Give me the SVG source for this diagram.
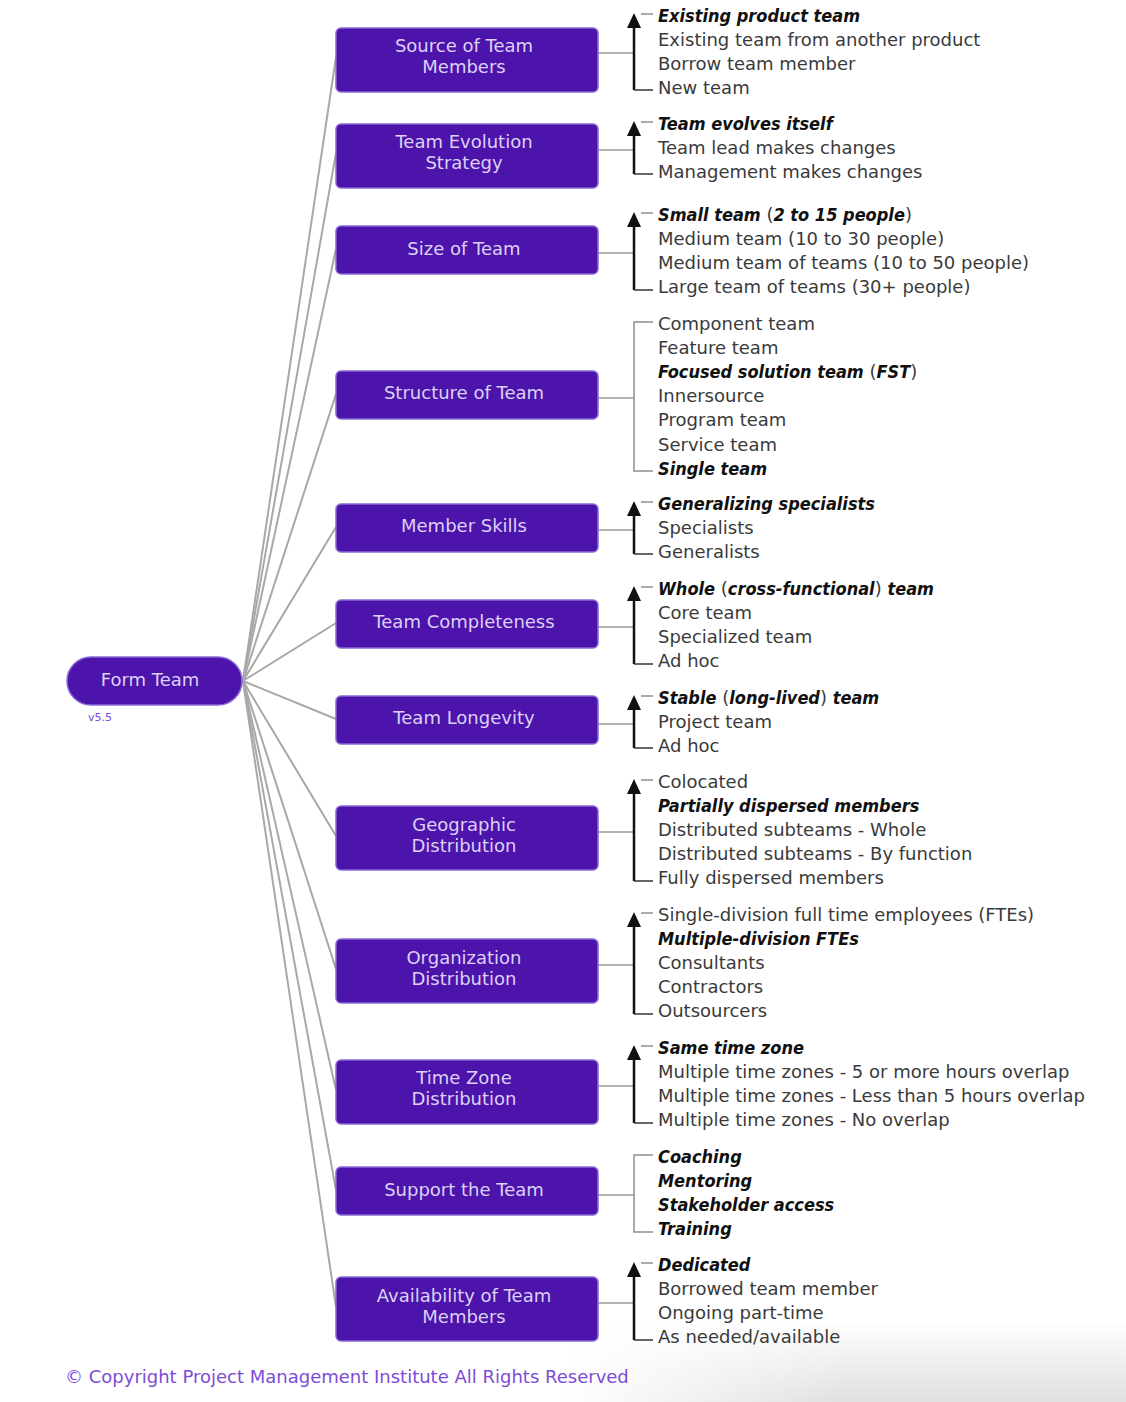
<svg xmlns="http://www.w3.org/2000/svg" width="1126" height="1402" viewBox="0 0 1126 1402">
<style>
.box{fill:#4c14aa;stroke:#8868d6;stroke-width:1.5}
.bt{font-family:"DejaVu Sans",sans-serif;font-size:18px;fill:#ddd0f7;text-anchor:middle}
.it{font-family:"DejaVu Sans",sans-serif;font-size:18px;fill:#3a3a3a}
.b{font-weight:bold;font-style:italic;fill:#111;font-stretch:condensed}
.con{stroke:#a8a8a8;stroke-width:2;fill:none}
.hl{stroke:#9a9a9a;stroke-width:1.5;fill:none}
.br{stroke:#8f8f8f;stroke-width:1.5;fill:none}
.ar{stroke:#111;stroke-width:2.5;fill:none;marker-end:url(#ah)}
.bk{stroke:#333;stroke-width:1.5;fill:none}
</style>
<defs>
<marker id="ah" markerUnits="userSpaceOnUse" markerWidth="15" markerHeight="14" viewBox="0 0 15 14" refX="0" refY="7" orient="auto">
<path d="M0,0 L15,7 L0,14 Z" fill="#111"/>
</marker>
<linearGradient id="shv" x1="0" y1="0" x2="0" y2="1">
<stop offset="0" stop-color="#ffffff"/>
<stop offset="1" stop-color="#e0e0e0"/>
</linearGradient>
<linearGradient id="shh" x1="0" y1="0" x2="1" y2="0">
<stop offset="0" stop-color="#000"/>
<stop offset="0.5" stop-color="#fff"/>
<stop offset="1" stop-color="#fff"/>
</linearGradient>
<mask id="shm"><rect x="560" y="1320" width="566" height="82" fill="url(#shh)"/></mask>
</defs>
<rect x="0" y="0" width="1126" height="1402" fill="#fff"/>
<rect x="560" y="1320" width="566" height="82" fill="url(#shv)" mask="url(#shm)"/>

<g id="connectors">
<path class="con" d="M243,681 L336,57"/>
<path class="con" d="M243,681 L336,153"/>
<path class="con" d="M243,681 L336,249"/>
<path class="con" d="M243,681 L336,394"/>
<path class="con" d="M243,681 L336,527"/>
<path class="con" d="M243,681 L336,623"/>
<path class="con" d="M243,681 L336,719"/>
<path class="con" d="M243,681 L336,836"/>
<path class="con" d="M243,681 L336,969"/>
<path class="con" d="M243,681 L336,1090"/>
<path class="con" d="M243,681 L336,1190"/>
<path class="con" d="M243,681 L336,1307"/>
<path class="hl" d="M598,53 H634"/>
<path class="hl" d="M598,150 H634"/>
<path class="hl" d="M598,253 H634"/>
<path class="hl" d="M598,398 H634"/>
<path class="hl" d="M598,530 H634"/>
<path class="hl" d="M598,627 H634"/>
<path class="hl" d="M598,724 H634"/>
<path class="hl" d="M598,832 H634"/>
<path class="hl" d="M598,965 H634"/>
<path class="hl" d="M598,1086 H634"/>
<path class="hl" d="M598,1195 H634"/>
<path class="hl" d="M598,1303 H634"/>
</g>

<g id="form-team">
<rect x="67" y="657" width="175" height="48" rx="24" class="box"/>
<text x="150" y="686" class="bt">Form Team</text>
<text x="88" y="721" style="font-family:'DejaVu Sans',sans-serif;font-size:11px;fill:#7c4cd6">v5.5</text>
</g>

<g id="source">
<rect x="336" y="28" width="262" height="64" rx="5" class="box"/>
<text x="464" y="52" class="bt">Source of Team</text>
<text x="464" y="73" class="bt">Members</text>
<path class="ar" d="M634,90 V28"/><path class="br" d="M641,14 H653"/><path class="bk" d="M634,90 H653"/>
<text class="it"><tspan x="658" y="21.5" class="b">Existing product team</tspan><tspan x="658" y="45.7">Existing team from another product</tspan><tspan x="658" y="69.9">Borrow team member</tspan><tspan x="658" y="94.1">New team</tspan></text>
</g>

<g id="evolution">
<rect x="336" y="124" width="262" height="64" rx="5" class="box"/>
<text x="464" y="148" class="bt">Team Evolution</text>
<text x="464" y="169" class="bt">Strategy</text>
<path class="ar" d="M634,174 V136"/><path class="br" d="M641,122 H653"/><path class="bk" d="M634,174 H653"/>
<text class="it"><tspan x="658" y="129.5" class="b">Team evolves itself</tspan><tspan x="658" y="153.7">Team lead makes changes</tspan><tspan x="658" y="177.9">Management makes changes</tspan></text>
</g>

<g id="size">
<rect x="336" y="226" width="262" height="48" rx="5" class="box"/>
<text x="464" y="255" class="bt">Size of Team</text>
<path class="ar" d="M634,290 V227"/><path class="br" d="M641,213 H653"/><path class="bk" d="M634,290 H653"/>
<text class="it"><tspan x="658" y="220.5"><tspan class="b">Small team</tspan> (<tspan class="b">2 to 15 people</tspan>)</tspan><tspan x="658" y="244.7">Medium team (10 to 30 people)</tspan><tspan x="658" y="268.9">Medium team of teams (10 to 50 people)</tspan><tspan x="658" y="293.1">Large team of teams (30+ people)</tspan></text>
</g>

<g id="structure">
<rect x="336" y="371" width="262" height="48" rx="5" class="box"/>
<text x="464" y="399" class="bt">Structure of Team</text>
<path class="br" d="M653,322 H634 V471 H653"/>
<text class="it"><tspan x="658" y="329.5">Component team</tspan><tspan x="658" y="353.7">Feature team</tspan><tspan x="658" y="377.9"><tspan class="b">Focused solution team</tspan> (<tspan class="b">FST</tspan>)</tspan><tspan x="658" y="402.1">Innersource</tspan><tspan x="658" y="426.3">Program team</tspan><tspan x="658" y="450.5">Service team</tspan><tspan x="658" y="474.7" class="b">Single team</tspan></text>
</g>

<g id="skills">
<rect x="336" y="504" width="262" height="48" rx="5" class="box"/>
<text x="464" y="532" class="bt">Member Skills</text>
<path class="ar" d="M634,554 V516"/><path class="br" d="M641,502 H653"/><path class="bk" d="M634,554 H653"/>
<text class="it"><tspan x="658" y="509.5" class="b">Generalizing specialists</tspan><tspan x="658" y="533.7">Specialists</tspan><tspan x="658" y="557.9">Generalists</tspan></text>
</g>

<g id="completeness">
<rect x="336" y="600" width="262" height="48" rx="5" class="box"/>
<text x="464" y="628" class="bt">Team Completeness</text>
<path class="ar" d="M634,664 V601"/><path class="br" d="M641,587 H653"/><path class="bk" d="M634,664 H653"/>
<text class="it"><tspan x="658" y="594.5"><tspan class="b">Whole</tspan> (<tspan class="b">cross-functional</tspan>) <tspan class="b">team</tspan></tspan><tspan x="658" y="618.7">Core team</tspan><tspan x="658" y="642.9">Specialized team</tspan><tspan x="658" y="667.1">Ad hoc</tspan></text>
</g>

<g id="longevity">
<rect x="336" y="696" width="262" height="48" rx="5" class="box"/>
<text x="464" y="724" class="bt">Team Longevity</text>
<path class="ar" d="M634,748 V710"/><path class="br" d="M641,696 H653"/><path class="bk" d="M634,748 H653"/>
<text class="it"><tspan x="658" y="703.5"><tspan class="b">Stable</tspan> (<tspan class="b">long-lived</tspan>) <tspan class="b">team</tspan></tspan><tspan x="658" y="727.7">Project team</tspan><tspan x="658" y="751.9">Ad hoc</tspan></text>
</g>

<g id="geographic">
<rect x="336" y="806" width="262" height="64" rx="5" class="box"/>
<text x="464" y="831" class="bt">Geographic</text>
<text x="464" y="852" class="bt">Distribution</text>
<path class="ar" d="M634,881 V794"/><path class="br" d="M641,780 H653"/><path class="bk" d="M634,881 H653"/>
<text class="it"><tspan x="658" y="787.5">Colocated</tspan><tspan x="658" y="811.7" class="b">Partially dispersed members</tspan><tspan x="658" y="835.9">Distributed subteams - Whole</tspan><tspan x="658" y="860.1">Distributed subteams - By function</tspan><tspan x="658" y="884.3">Fully dispersed members</tspan></text>
</g>

<g id="organization">
<rect x="336" y="939" width="262" height="64" rx="5" class="box"/>
<text x="464" y="964" class="bt">Organization</text>
<text x="464" y="985" class="bt">Distribution</text>
<path class="ar" d="M634,1014 V927"/><path class="br" d="M641,913 H653"/><path class="bk" d="M634,1014 H653"/>
<text class="it"><tspan x="658" y="920.5">Single-division full time employees (FTEs)</tspan><tspan x="658" y="944.7" class="b">Multiple-division FTEs</tspan><tspan x="658" y="968.9">Consultants</tspan><tspan x="658" y="993.1">Contractors</tspan><tspan x="658" y="1017.3">Outsourcers</tspan></text>
</g>

<g id="timezone">
<rect x="336" y="1060" width="262" height="64" rx="5" class="box"/>
<text x="464" y="1084" class="bt">Time Zone</text>
<text x="464" y="1105" class="bt">Distribution</text>
<path class="ar" d="M634,1123 V1060"/><path class="br" d="M641,1046 H653"/><path class="bk" d="M634,1123 H653"/>
<text class="it"><tspan x="658" y="1053.5" class="b">Same time zone</tspan><tspan x="658" y="1077.7">Multiple time zones - 5 or more hours overlap</tspan><tspan x="658" y="1101.9">Multiple time zones - Less than 5 hours overlap</tspan><tspan x="658" y="1126.1">Multiple time zones - No overlap</tspan></text>
</g>

<g id="support">
<rect x="336" y="1167" width="262" height="48" rx="5" class="box"/>
<text x="464" y="1196" class="bt">Support the Team</text>
<path class="br" d="M653,1155 H634 V1232 H653"/>
<text class="it"><tspan x="658" y="1162.5" class="b">Coaching</tspan><tspan x="658" y="1186.7" class="b">Mentoring</tspan><tspan x="658" y="1210.9" class="b">Stakeholder access</tspan><tspan x="658" y="1235.1" class="b">Training</tspan></text>
</g>

<g id="availability">
<rect x="336" y="1277" width="262" height="64" rx="5" class="box"/>
<text x="464" y="1302" class="bt">Availability of Team</text>
<text x="464" y="1323" class="bt">Members</text>
<path class="ar" d="M634,1340 V1277"/><path class="br" d="M641,1263 H653"/><path class="bk" d="M634,1340 H653"/>
<text class="it"><tspan x="658" y="1270.5" class="b">Dedicated</tspan><tspan x="658" y="1294.7">Borrowed team member</tspan><tspan x="658" y="1318.9">Ongoing part-time</tspan><tspan x="658" y="1343.1">As needed/available</tspan></text>
</g>

<text x="65" y="1383" style="font-family:'DejaVu Sans',sans-serif;font-size:18px;fill:#7c4cd6">© Copyright Project Management Institute All Rights Reserved</text>
</svg>
